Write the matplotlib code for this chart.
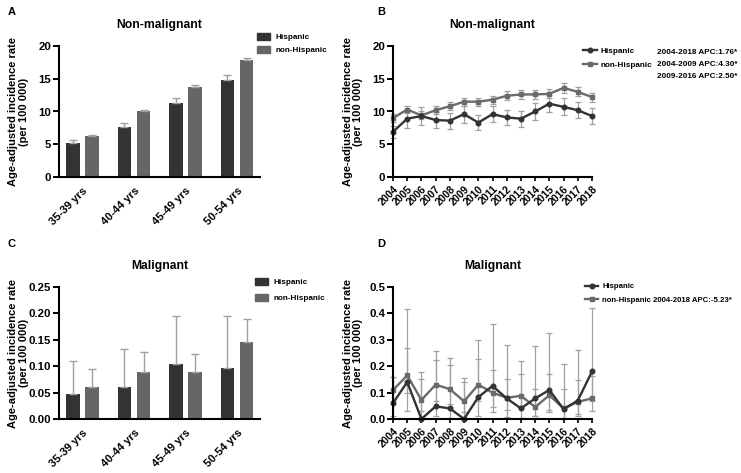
import matplotlib
matplotlib.use("Agg")
import matplotlib.pyplot as plt
import numpy as np
from matplotlib.patches import Patch
from matplotlib.lines import Line2D

plt.rcParams['font.family'] = ['Liberation Sans', 'DejaVu Sans']
plt.rcParams['font.weight'] = 'bold'

# ---- data ----
age_groups = ['35-39 yrs', '40-44 yrs', '45-49 yrs', '50-54 yrs']
years = list(range(2004, 2019))

# A: non-malignant by age
nm_hisp = [5.2, 7.7, 11.3, 14.8]
nm_hisp_up = [5.6, 8.2, 12.0, 15.6]
nm_non = [6.2, 10.0, 13.8, 17.8]
nm_non_up = [6.4, 10.3, 14.1, 18.2]

# C: malignant by age
m_hisp = [0.047, 0.061, 0.104, 0.096]
m_hisp_up = [0.109, 0.132, 0.195, 0.196]
m_non = [0.061, 0.089, 0.089, 0.146]
m_non_up = [0.094, 0.126, 0.124, 0.189]

# B: non-malignant by year
nmy_hisp = [6.9, 8.9, 9.3, 8.7, 8.6, 9.6, 8.3, 9.6, 9.1, 8.9, 10.0, 11.2, 10.7, 10.2, 9.3]
nmy_hisp_err = [0.9, 1.4, 1.4, 1.2, 1.2, 1.3, 1.2, 1.2, 1.2, 1.2, 1.3, 1.3, 1.3, 1.2, 1.2]
nmy_non = [9.0, 10.3, 9.4, 10.2, 10.8, 11.5, 11.5, 11.8, 12.4, 12.6, 12.6, 12.7, 13.6, 13.0, 12.2]
nmy_non_err = [0.6, 0.6, 0.6, 0.6, 0.6, 0.6, 0.6, 0.6, 0.7, 0.7, 0.7, 0.7, 0.7, 0.7, 0.7]

# D: malignant by year
my_hisp = [0.06, 0.14, 0.0, 0.048, 0.04, 0.0, 0.083, 0.125, 0.078, 0.04, 0.078, 0.11, 0.037, 0.07, 0.18]
my_hisp_lo = [0.01, 0.03, 0.0, 0.01, 0.005, 0.0, 0.01, 0.025, 0.008, 0.005, 0.01, 0.025, 0.005, 0.01, 0.07]
my_hisp_hi = [0.16, 0.415, 0.177, 0.258, 0.232, 0.157, 0.30, 0.358, 0.28, 0.218, 0.275, 0.327, 0.207, 0.26, 0.42]
my_non = [0.11, 0.165, 0.072, 0.13, 0.113, 0.067, 0.13, 0.10, 0.08, 0.088, 0.045, 0.09, 0.04, 0.065, 0.078]
my_non_lo = [0.07, 0.10, 0.03, 0.07, 0.055, 0.025, 0.07, 0.045, 0.035, 0.04, 0.01, 0.035, 0.005, 0.02, 0.03]
my_non_hi = [0.16, 0.268, 0.15, 0.222, 0.205, 0.14, 0.226, 0.187, 0.153, 0.17, 0.115, 0.172, 0.112, 0.147, 0.163]

DARK = '#333333'
MID = '#666666'
LINE2 = '#6a6a6a'
ERR = '#a0a0a0'

W, H = 741, 473
fig = plt.figure(figsize=(W / 100, H / 100), dpi=100)


def px_axes(x0, y0, x1, y1):
    return fig.add_axes([x0 / W, 1 - y1 / H, (x1 - x0) / W, (y1 - y0) / H])


def style(ax):
    for s in ['top', 'right']:
        ax.spines[s].set_visible(False)
    for s in ['left', 'bottom']:
        ax.spines[s].set_linewidth(1.5)
    ax.tick_params(axis='y', width=1.4, length=4, labelsize=8.2, pad=1.5)
    ax.set_ylabel('Age-adjusted incidence rate\n(per 100 000)', fontsize=8,
                  fontweight='bold', linespacing=1.05)
    ax.yaxis.set_label_coords(-0.15, 0.5)


def bar_panel(ax, hisp, hisp_up, non, non_up, ymax, ticks, fmt, title):
    x = np.arange(len(age_groups))
    w = 0.27
    off = 0.185
    ax.bar(x - off, hisp, w, color=DARK)
    ax.bar(x + off, non, w, color=MID)
    ax.errorbar(x - off, hisp, yerr=[np.zeros(4), np.array(hisp_up) - np.array(hisp)],
                fmt='none', ecolor=ERR, elinewidth=1, capsize=3, capthick=1)
    ax.errorbar(x + off, non, yerr=[np.zeros(4), np.array(non_up) - np.array(non)],
                fmt='none', ecolor=ERR, elinewidth=1, capsize=3, capthick=1)
    ax.set_xlim(-0.456, 3.447)
    ax.set_ylim(0, ymax)
    ax.set_yticks(ticks)
    ax.set_yticklabels([fmt.format(t) for t in ticks], fontweight='bold')
    ax.set_xticks(x)
    ax.set_xticklabels(age_groups, rotation=45, ha='right', rotation_mode='anchor',
                       fontweight='bold', fontsize=8)
    ax.tick_params(axis='x', length=0, pad=6)
    ax.set_title(title, fontsize=8.7, fontweight='bold', pad=13)
    style(ax)


def line_panel(ax, h, hlo, hhi, n, nlo, nhi, ymax, ticks, fmt, title):
    ax.errorbar(years, n, yerr=[np.array(n) - np.array(nlo), np.array(nhi) - np.array(n)],
                fmt='none', ecolor=ERR, elinewidth=0.9, capsize=2.5, capthick=0.9, clip_on=False)
    ax.errorbar(years, h, yerr=[np.array(h) - np.array(hlo), np.array(hhi) - np.array(h)],
                fmt='none', ecolor=ERR, elinewidth=0.9, capsize=2.5, capthick=0.9, clip_on=False)
    ax.plot(years, n, color=LINE2, lw=1.7, marker='s', ms=3.3, clip_on=False)
    ax.plot(years, h, color=DARK, lw=1.7, marker='o', ms=3.3, clip_on=False)
    ax.set_xlim(2004, 2018)
    ax.set_ylim(0, ymax)
    ax.set_yticks(ticks)
    ax.set_yticklabels([fmt.format(t) for t in ticks], fontweight='bold')
    ax.set_xticks(years)
    ax.set_xticklabels([str(y) for y in years], rotation=45, ha='right',
                       rotation_mode='anchor', fontsize=7.5, fontweight='bold')
    ax.tick_params(axis='x', length=3, width=1.2, pad=2)
    ax.set_title(title, fontsize=8.7, fontweight='bold', pad=13)
    style(ax)


axA = px_axes(59, 46, 260, 177)
bar_panel(axA, nm_hisp, nm_hisp_up, nm_non, nm_non_up, 20, [0, 5, 10, 15, 20], '{:g}',
          'Non-malignant')
axC = px_axes(59, 287, 260, 419)
bar_panel(axC, m_hisp, m_hisp_up, m_non, m_non_up, 0.25,
          [0, 0.05, 0.10, 0.15, 0.20, 0.25], '{:.2f}', 'Malignant')
axB = px_axes(393, 46, 592, 177)
line_panel(axB, nmy_hisp, np.array(nmy_hisp) - np.array(nmy_hisp_err),
           np.array(nmy_hisp) + np.array(nmy_hisp_err),
           nmy_non, np.array(nmy_non) - np.array(nmy_non_err),
           np.array(nmy_non) + np.array(nmy_non_err),
           20, [0, 5, 10, 15, 20], '{:g}', 'Non-malignant')
axD = px_axes(393, 287, 592, 419)
line_panel(axD, my_hisp, my_hisp_lo, my_hisp_hi, my_non, my_non_lo, my_non_hi,
           0.5, [0, 0.1, 0.2, 0.3, 0.4, 0.5], '{:.1f}', 'Malignant')

# legends
LEG_FS = 5.9
bar_handles = [Patch(color=DARK, label='Hispanic'), Patch(color=MID, label='non-Hispanic')]
for ax, lx, ly, sp in [(axA, 257, 33, 0.55), (axC, 255, 278, 0.9)]:
    ax.legend(handles=bar_handles, loc='upper left', bbox_to_anchor=(lx / W, 1 - ly / H),
              bbox_transform=fig.transFigure, frameon=False, borderpad=0, borderaxespad=0,
              handlelength=1.6, handleheight=1.0, handletextpad=0.6, labelspacing=sp,
              prop={'weight': 'bold', 'size': LEG_FS})

line_handles = [Line2D([], [], color=DARK, lw=1.7, marker='o', ms=3.3, label='Hispanic'),
                Line2D([], [], color=LINE2, lw=1.7, marker='s', ms=3.3, label='non-Hispanic')]
axB.legend(handles=line_handles, loc='upper left', bbox_to_anchor=(583 / W, 1 - 47 / H),
           bbox_transform=fig.transFigure, frameon=False, borderpad=0, borderaxespad=0,
           handlelength=1.7, handletextpad=0.4, labelspacing=0.75,
           prop={'weight': 'bold', 'size': LEG_FS})
for txt, yy in [('2004-2018 APC:1.76*', 52), ('2004-2009 APC:4.30*', 65),
                ('2009-2016 APC:2.50*', 76)]:
    fig.text(657 / W, 1 - yy / H, txt, fontsize=LEG_FS, fontweight='bold', va='center')

axD.legend(handles=[line_handles[0],
                    Line2D([], [], color=LINE2, lw=1.7, marker='s', ms=3.3,
                           label='non-Hispanic 2004-2018 APC:-5.23*')],
           loc='upper left', bbox_to_anchor=(585 / W, 1 - 283 / H),
           bbox_transform=fig.transFigure, frameon=False, borderpad=0, borderaxespad=0,
           handlelength=1.7, handletextpad=0.5, labelspacing=0.75,
           prop={'weight': 'bold', 'size': 5.6})

# panel letters
for lbl, x, y in [('A', 8, 12), ('B', 377, 12), ('C', 8, 244), ('D', 377, 244)]:
    fig.text(x / W, 1 - y / H, lbl, fontsize=8, fontweight='bold', va='center')

fig.savefig('out.png', dpi=100)
